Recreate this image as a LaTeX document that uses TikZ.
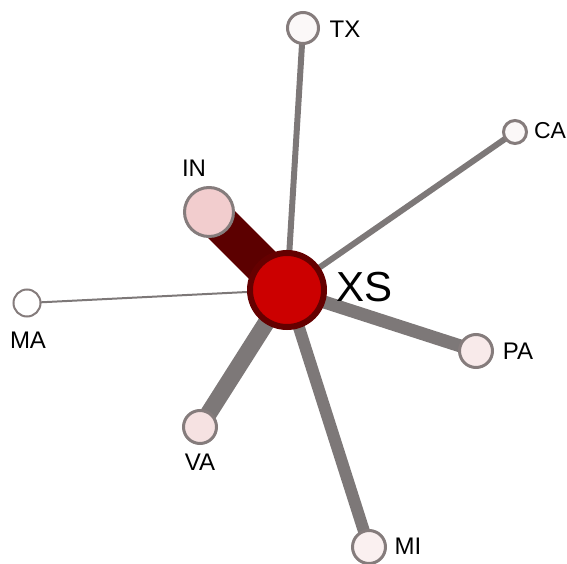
\documentclass[tikz,border=0pt]{standalone}
\usepackage{fontspec}
\setmainfont{Liberation Sans}
\usetikzlibrary{backgrounds}
\definecolor{xsred}{HTML}{CC0000}
\definecolor{xsdark}{HTML}{650000}
\definecolor{indark}{HTML}{5C0000}
\definecolor{linkgray}{HTML}{7D7878}
\definecolor{rimgray}{HTML}{857C7C}

\begin{document}
\begin{tikzpicture}[x=1pt,y=-1pt,
  state/.style={circle,draw=rimgray,line width=3pt,inner sep=0pt},
  lab/.style={font=\fontsize{24}{24}\selectfont,inner sep=0pt},
  link/.style={draw=linkgray}]
\useasboundingbox (0,0) rectangle (567,564);
% centre state
\node[state,minimum size=74pt,fill=xsred,draw=xsdark,line width=6pt] (xs) at (287,290) {};
\node[lab,font=\fontsize{42}{42}\selectfont] (xslab) at (364.5,287.5) {XS};
% the other states
\node[state,minimum size=49pt,fill={rgb,255:red,242;green,205;blue,206}] (in) at (209,212) {};
\node[state,minimum size=31pt,fill={rgb,255:red,251;green,248;blue,248}] (tx) at (303,28) {};
\node[state,minimum size=23pt,fill={rgb,255:red,251;green,248;blue,248}] (ca) at (515,132) {};
\node[state,minimum size=27pt,fill=white,line width=2pt] (ma) at (27,303) {};
\node[state,minimum size=33pt,fill={rgb,255:red,248;green,234;blue,234}] (pa) at (476,351) {};
\node[state,minimum size=33pt,fill={rgb,255:red,246;green,226;blue,226}] (va) at (200,427) {};
\node[state,minimum size=33pt,fill={rgb,255:red,250;green,240;blue,240}] (mi) at (369,547) {};
% labels
\node[lab] (inlab) at (194,168.5) {IN};
\node[lab] (txlab) at (345,29.5) {TX};
\node[lab,font=\fontsize{23}{23}\selectfont] (calab) at (550,131) {CA};
\node[lab] (malab) at (28,340) {MA};
\node[lab] (palab) at (518,351.5) {PA};
\node[lab] (valab) at (200,462) {VA};
\node[lab] (milab) at (408,546) {MI};
% links
\begin{pgfonlayer}{background}
\draw[link,draw=indark,line width=38pt] (xs.center) -- (in.center);
\draw[link,line width=6pt] (xs.center) -- (tx.center);
\draw[link,line width=6pt] (xs.center) -- (ca.center);
\draw[link,line width=2pt] (xs.center) -- (ma.center);
\draw[link,line width=13pt] (xs.center) -- (pa.center);
\draw[link,line width=17pt] (xs.center) -- (va.center);
\draw[link,line width=12pt] (xs.center) -- (mi.center);
\end{pgfonlayer}
\end{tikzpicture}
\end{document}
